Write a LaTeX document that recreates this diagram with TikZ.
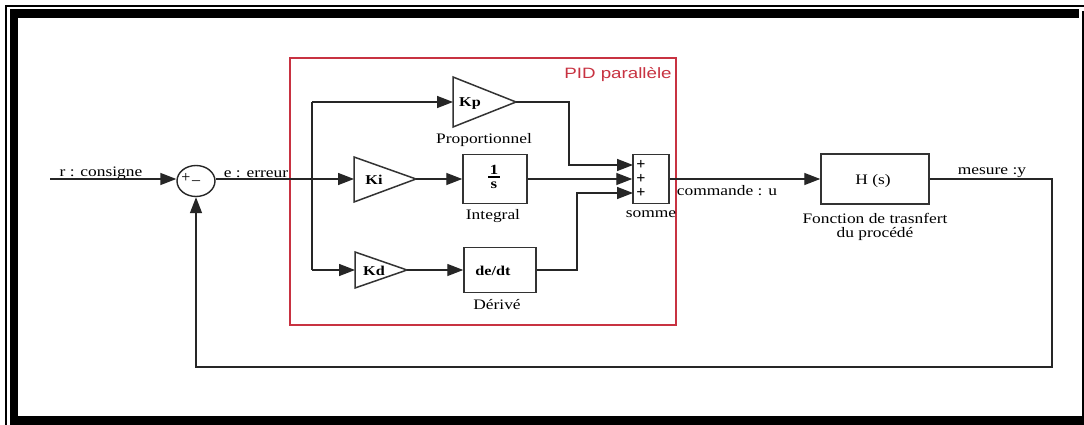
\documentclass[tikz,border=0pt]{standalone}
\usepackage{fontspec}
\usepackage{graphicx}
\setmainfont{Liberation Serif}
\newfontfamily\sansf{Liberation Sans}
\usetikzlibrary{arrows.meta,shapes.geometric}
\definecolor{pidred}{RGB}{200,50,65}
\newcommand\wide[1]{\scalebox{1.2}[1]{#1}}
\newcommand\wider[1]{\scalebox{1.25}[1]{#1}}
\begin{document}
\begin{tikzpicture}[x=1pt,y=-1pt,
  wire/.style={line width=1.4pt, draw=black!85},
  arr/.style={wire,-{Triangle[length=16pt,width=12pt]}},
  blockbox/.style={draw=black!80, line width=1.5pt, inner sep=0, fill=white},
  lbl/.style={inner sep=0, anchor=base, font=\fontsize{14.5}{14.5}\selectfont},
  gain/.style={inner sep=0, anchor=base, font=\fontsize{13.5}{13.5}\selectfont\bfseries},
  plus/.style={inner sep=0, font=\fontsize{16}{16}\selectfont\bfseries},
]
\useasboundingbox (0,0) rectangle (1084,425);
\fill[white] (0,0) rectangle (1084,425);
% frame
\draw[line width=2pt] (6,425) -- (6,6) -- (1084,6);
\draw[line width=2pt] (1082.5,11) -- (1082.5,416);
\fill (10,9) rectangle (1079,18);
\fill (10,9) rectangle (18,425);
\fill (10,416) rectangle (1084,425);

% PID frame
\node[draw=pidred, line width=1.5pt, minimum width=386pt, minimum height=267pt, inner sep=0] (pid) at (483,191.5) {};
\node[inner sep=0, anchor=base, text=pidred, font=\fontsize{15}{15}\sansf] (pidlbl) at (618,79) {\wider{PID parallèle}};

% summing junction
\node[draw=black!85, line width=1.4pt, ellipse, minimum width=38pt, minimum height=31pt, inner sep=0] (sum) at (196,181) {};
\node[inner sep=0, font=\fontsize{16}{16}\selectfont] (sp) at (186,178) {+};
\node[inner sep=0, font=\fontsize{16}{16}\selectfont] (sm) at (196,181) {\_};

% coordinates
\coordinate (rin) at (50,179);
\coordinate (br) at (312,179);
\coordinate (br1) at (312,102);
\coordinate (br3) at (312,270);

% gains (triangles)
\draw[blockbox] (453,77) -- (516,102) -- (453,127) -- cycle;
\coordinate (kpin) at (453,102);
\coordinate (kpout) at (516,102);
\node[gain] (kp) at (470,106.5) {\wide{Kp}};

\draw[blockbox] (354,157) -- (416,179) -- (354,202) -- cycle;
\coordinate (kiin) at (354,179);
\coordinate (kiout) at (416,179);
\node[gain] (ki) at (374,184.5) {\wide{Ki}};

\draw[blockbox] (355,252) -- (407,270) -- (355,288) -- cycle;
\coordinate (kdin) at (355,270);
\coordinate (kdout) at (407,270);
\node[gain] (kd) at (374,275) {\wide{Kd}};

% boxes
\node[blockbox, minimum width=64pt, minimum height=49pt] (int) at (495,179) {};
\node[inner sep=0, anchor=base, font=\fontsize{14}{14}\selectfont\bfseries] (int1) at (494,174.5) {\wide{1}};
\draw[line width=1.1pt] (488,177) -- (500,177);
\node[inner sep=0, anchor=base, font=\fontsize{14}{14}\selectfont\bfseries] (int2) at (494,188) {\wide{s}};
\node[blockbox, minimum width=72pt, minimum height=45pt] (der) at (500,270) {};
\node[gain] (derf) at (493,275) {\wide{de/dt}};
\node[blockbox, minimum width=36pt, minimum height=49pt] (som) at (651,179) {};
\node[plus] (p1) at (641,165) {+};
\node[plus] (p2) at (641,179) {+};
\node[plus] (p3) at (641,193) {+};
\node[blockbox, minimum width=108pt, minimum height=50pt] (H) at (875,179) {};
\node[lbl] (Hf) at (873,184) {\wide{H (s)}};

% labels
\node[lbl] (lr) at (101,176) {\wide{r : consigne}};
\node[lbl] (le) at (256,177) {\wide{e : erreur}};
\node[lbl] (lp) at (484,143) {\wide{Proportionnel}};
\node[lbl] (li) at (493,219) {\wide{Integral}};
\node[lbl] (ld) at (497,309) {\wide{Dérivé}};
\node[lbl] (ls) at (651,217) {\wide{somme}};
\node[lbl] (lu) at (727,195) {\wide{commande : u}};
\node[lbl] (ly) at (992,175) {\wide{mesure :y}};
\node[lbl, anchor=north] (lH) at (875,213) {\wide{\begin{tabular}{@{}c@{}}Fonction de trasnfert\\[0pt]du procédé\end{tabular}}};

% bend coordinates
\coordinate (s1) at (633,165);
\coordinate (s3) at (633,193);
\coordinate (b1) at (569,102);
\coordinate (b3) at (577,270);
\coordinate (fb) at (1052,367);

% connectors
\draw[arr] (rin) -- (rin -| sum.west);
\draw[wire] (sum.east |- br) -- (br);
\fill (br) circle (1.8pt);
\draw[wire] (br1) -- (br3);
\draw[arr] (br1) -- (kpin);
\draw[arr] (br) -- (kiin);
\draw[arr] (br3) -- (kdin);
\draw[arr] (kiout) -- (int.west);
\draw[arr] (kdout) -- (der.west);
\draw[arr] (kpout) -- (b1) |- (s1);
\draw[arr] (int.east) -- (som.west);
\draw[arr] (der.east) -- (b3) |- (s3);
\draw[arr] (som.east) -- (H.west);
\draw[arr] (H.east) -| (fb) -| (sum.south);
\end{tikzpicture}
\end{document}
